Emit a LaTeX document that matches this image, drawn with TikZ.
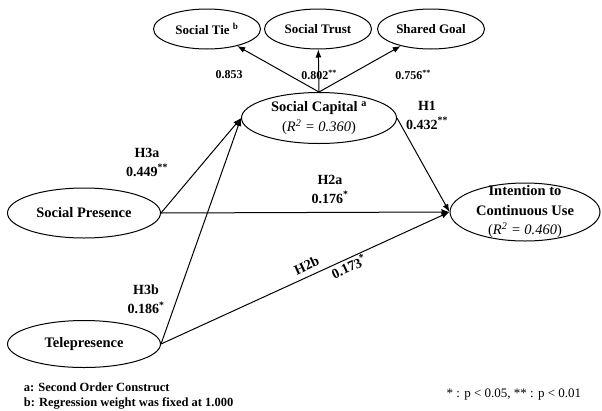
\documentclass[tikz,border=0pt]{standalone}
\usepackage{fontspec}
\setmainfont{Liberation Serif}
\usetikzlibrary{shapes.geometric,arrows.meta}

\tikzset{
  construct/.style={draw,ellipse,inner sep=0pt,align=center,
    font=\bfseries\fontsize{14.5}{20}\selectfont},
  factor/.style={draw,ellipse,inner sep=0pt,minimum width=107pt,minimum height=40pt,
    font=\bfseries\fontsize{13}{15}\selectfont},
  hyp/.style={align=center,font=\bfseries\fontsize{14}{19}\selectfont},
  loading/.style={font=\bfseries\fontsize{12}{14}\selectfont},
  note/.style={anchor=west,font=\bfseries\fontsize{12.5}{15}\selectfont}
}

\begin{document}
\begin{tikzpicture}[x=1pt,y=-1pt,>={Latex[length=8pt,width=6pt]},line width=1pt]
\useasboundingbox (0,0) rectangle (602,410);

\node[factor] (tie) at (207,29){Social Tie \textsuperscript{b}};
\node[factor] (trust) at (318,29){Social Trust};
\node[factor] (goal) at (431,29){Shared Goal};

\node[construct,minimum width=155pt,minimum height=51pt] (cap) at (319,118)
  {Social Capital \textsuperscript{a}\\
   \mdseries(\textit{R\textsuperscript{2} = 0.360})};
\node[construct,minimum width=153pt,minimum height=50pt] (sp) at (84,213){Social Presence};
\node[construct,minimum width=153pt,minimum height=47pt] (tp) at (84,344){Telepresence};
\node[construct,minimum width=150pt,minimum height=58pt] (intent) at (525,212){};
\node[align=center,font=\bfseries\fontsize{14.5}{19.5}\selectfont] (intent text) at (intent)
  {Intention to\\Continuous Use\\
   \mdseries(\textit{R\textsuperscript{2} = 0.460})};

\draw[->] (cap.north) -- (tie);
\draw[->] (cap.north) -- (trust);
\draw[->] (cap.north) -- (goal);
\node[loading] (w tie) at (229,75){0.853};
\node[loading] (w trust) at (319,75){0.802\textsuperscript{**}};
\node[loading] (w goal) at (413,75){0.756\textsuperscript{**}};

\draw[->] (sp.east) -- (cap.west);
\draw[->] (tp.east) -- (cap.west);
\draw[->] (sp.east) -- (intent.west);
\draw[->] (cap.east) -- (intent.west);
\draw[->] (tp.east) -- (intent.west)
  node[pos=0.52,sloped,above=2pt,hyp] (h2b) {H2b}
  node[pos=0.64,sloped,below=1pt,inner sep=0pt,hyp] (b2b) {0.173\textsuperscript{*}};

\node[hyp] (h3a) at (147,162){H3a\\0.449\textsuperscript{**}};
\node[hyp] (h2a) at (330,189){H2a\\0.176\textsuperscript{*}};
\node[hyp] (h1) at (427,115){H1\\0.432\textsuperscript{**}};
\node[hyp] (h3b) at (146,299){H3b\\0.186\textsuperscript{*}};

\node[note] (note a) at (20,387){a: Second Order Construct};
\node[note] (note b) at (20,403){b: Regression weight was fixed at 1.000};
\node[anchor=east,font=\fontsize{13}{15}\selectfont] (note p) at (585,395)
  {* : p < 0.05, ** : p < 0.01};
\end{tikzpicture}
\end{document}
